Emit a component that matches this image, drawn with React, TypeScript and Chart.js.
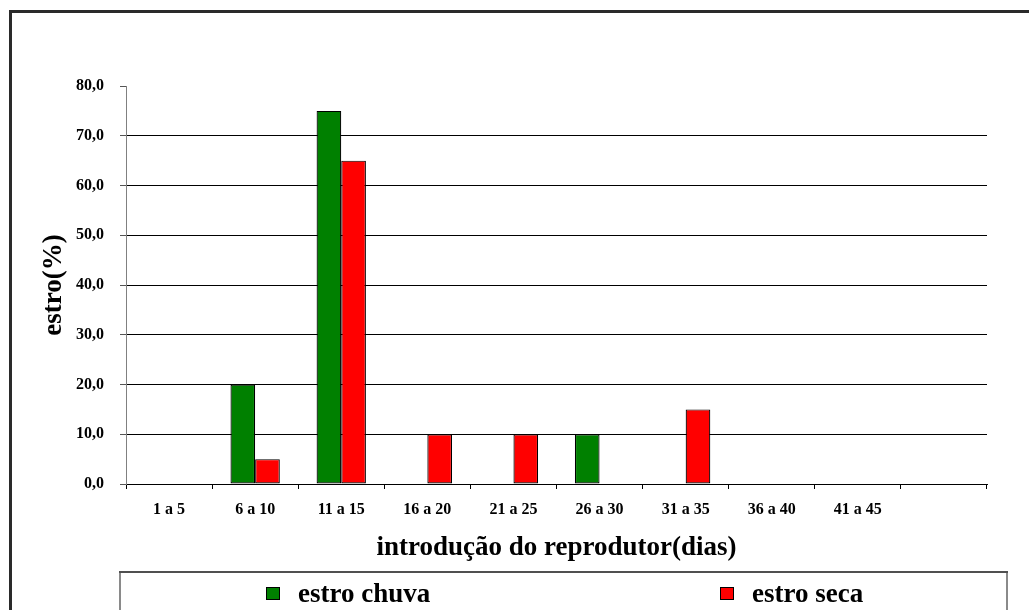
import React, { useEffect, useRef } from 'react';
import { Chart, registerables } from 'chart.js';

Chart.register(...registerables);

const categories = ['1 a 5', '6 a 10', '11 a 15', '16 a 20', '21 a 25', '26 a 30', '31 a 35', '36 a 40', '41 a 45', ''];
const estroChuva = [0, 20, 75, 0, 0, 10, 0, 0, 0, null];
const estroSeca = [0, 5, 65, 10, 10, 0, 15, 0, 0, null];
const seriesLabels = ['estro chuva', 'estro seca'];
const seriesColors = ['#008000', '#FF0000'];
const yMin = 0;
const yMax = 80;
const yStep = 10;
const xTitle = 'introdução do reprodutor(dias)';
const yTitle = 'estro(%)';

const FAMILY = "'Liberation Serif', serif";

const framePlugin = {
  id: 'framePlugin',
  beforeDraw(chart: any) {
    const ctx = chart.ctx;
    ctx.save();
    ctx.fillStyle = '#ffffff';
    ctx.fillRect(0, 0, chart.width, chart.height);
    ctx.restore();
  },
  afterDraw(chart: any) {
    const ctx = chart.ctx;
    ctx.save();
    // outer frame
    ctx.strokeStyle = '#2a2a2a';
    ctx.lineWidth = 3;
    ctx.strokeRect(10.5, 11.5, 1200, 800);
    // legend box
    ctx.lineWidth = 2;
    ctx.strokeStyle = '#8a8a8a';
    ctx.beginPath();
    ctx.moveTo(120, 700);
    ctx.lineTo(120, 572);
    ctx.moveTo(1007, 572);
    ctx.lineTo(1007, 700);
    ctx.stroke();
    ctx.strokeStyle = '#505050';
    ctx.beginPath();
    ctx.moveTo(119, 572);
    ctx.lineTo(1008, 572);
    ctx.stroke();
    // legend items
    ctx.font = "bold 27px 'Liberation Serif'";
    ctx.textBaseline = 'alphabetic';
    ctx.textAlign = 'left';
    const boxL = 120;
    const boxW = 887;
    chart.data.datasets.forEach((ds: any, i: number) => {
      const center = boxL + boxW * (0.25 + 0.5 * i) + 6;
      const tw = ctx.measureText(ds.label).width;
      const total = 14 + 18 + tw;
      const x0 = Math.round(center - total / 2);
      ctx.fillStyle = ds.backgroundColor;
      ctx.fillRect(x0, 587, 14, 13);
      ctx.strokeStyle = '#000';
      ctx.lineWidth = 1;
      ctx.strokeRect(x0 + 0.5, 587.5, 13, 12);
      ctx.fillStyle = '#000';
      ctx.fillText(ds.label, x0 + 32, 602);
    });
    ctx.restore();
  },
};

export default function App() {
  const ref = useRef<HTMLCanvasElement | null>(null);

  useEffect(() => {
    document.body.style.margin = '0';
    const canvas = ref.current;
    if (!canvas) return;
    const chart = new Chart(canvas, {
      type: 'bar',
      data: {
        labels: categories,
        datasets: [
          {
            label: seriesLabels[0],
            data: estroChuva,
            backgroundColor: seriesColors[0],
            borderColor: '#000',
            borderWidth: 1.2,
            borderSkipped: false,
            categoryPercentage: 0.573,
            barPercentage: 1.0,
          },
          {
            label: seriesLabels[1],
            data: estroSeca,
            backgroundColor: seriesColors[1],
            borderColor: '#000',
            borderWidth: 1.2,
            borderSkipped: false,
            categoryPercentage: 0.573,
            barPercentage: 1.0,
          },
        ],
      },
      options: {
        responsive: false,
        animation: false,
        devicePixelRatio: 1,
        layout: { padding: { left: 38, right: 42, top: 86, bottom: 46 } },
        plugins: {
          legend: { display: false },
          tooltip: { enabled: false },
        },
        scales: {
          x: {
            grid: {
              display: true,
              drawOnChartArea: false,
              drawTicks: true,
              tickLength: 5,
              color: '#000',
              offset: true,
            },
            border: { display: true, color: '#000', width: 1 },
            ticks: {
              font: { family: FAMILY, size: 16, weight: 'bold' },
              color: '#000',
              padding: 11,
              maxRotation: 0,
              autoSkip: false,
            },
            title: {
              display: true,
              text: xTitle,
              font: { family: FAMILY, size: 27, weight: 'bold' },
              color: '#000',
              padding: 0,
            },
            afterFit(scale: any) {
              scale.height = 80;
            },
          },
          y: {
            min: yMin,
            max: yMax,
            ticks: {
              stepSize: yStep,
              callback: (v: any) => Number(v).toFixed(1).replace('.', ','),
              font: { family: FAMILY, size: 16, weight: 'bold' },
              color: '#000',
              padding: 16,
            },
            grid: {
              color: (c: any) => (c.tick && c.tick.value === yMax ? 'rgba(0,0,0,0)' : '#000'),
              tickColor: '#555',
              tickLength: 6,
              drawTicks: true,
            },
            border: { display: true, color: '#808080' },
            title: {
              display: true,
              text: yTitle,
              font: { family: FAMILY, size: 27, weight: 'bold' },
              color: '#000',
              padding: 0,
            },
            afterFit(scale: any) {
              scale.width = 88;
            },
          },
        },
      },
      plugins: [framePlugin],
    } as any);
    return () => chart.destroy();
  }, []);

  return (
    <div style={{ position: 'absolute', left: 0, top: 0, width: 1029, height: 610 }}>
      <canvas ref={ref} width={1029} height={610} style={{ display: 'block' }} />
    </div>
  );
}
